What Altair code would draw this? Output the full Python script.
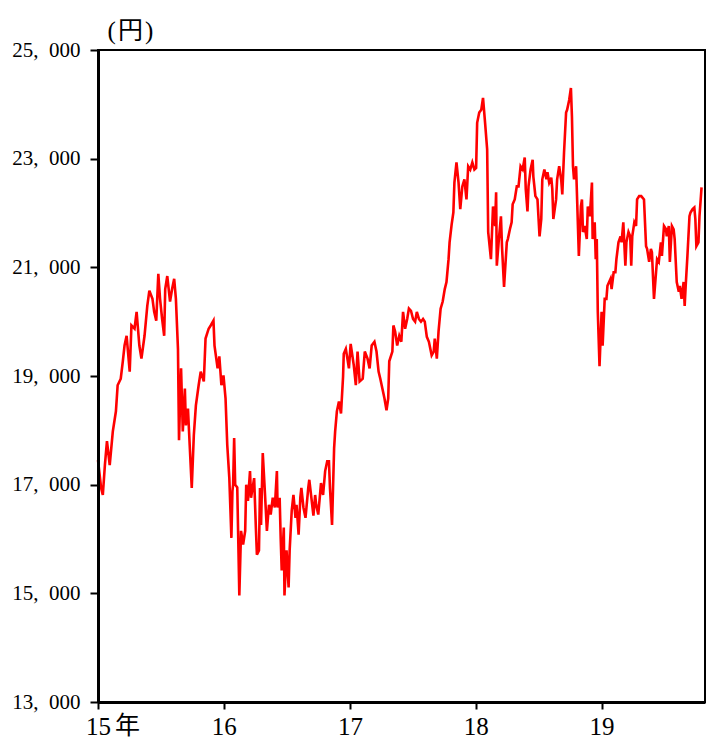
import altair as alt
import pandas as pd

# (days since 2015-01-01, Nikkei 225 close in yen)
pts_2015 = [(0,17450),(9,16940),(14,16810),(20,17360),(26,17800),(34,17360),(43,17980),(52,18350),(57,18830),(66,18950),(72,19270),(77,19560),(83,19740),(92,19080),(97,19930),(106,19870),(112,20180),(120,19560),(126,19320),(135,19740),(143,20290),(149,20570),(158,20420),(163,20180),(169,20020),(175,20880),(180,20420),(186,20050),(192,19740),(195,20600),(201,20840),(209,20370),(215,20600),(221,20790),(226,20420),(232,19500),(235,17820),(241,19140),(246,17980),(252,18770),(255,18090),(261,18400),(266,17730),(272,16940),(278,17910),(284,18460),(292,18830),(298,19080),(307,18900),(312,19690),(321,19870),(327,19930),(335,20020),(338,19560),(347,19140),(352,19360),(358,18830),(364,19010)]
pts_2016 = [(370,18590),(375,17730),(381,17120),(387,16020),(390,16880),(392,17000),(395,17860),(398,17000),(404,16950),(410,14960),(415,16150),(421,15900),(427,16150),(430,17000),(435,16700),(441,17250),(444,16760),(453,17120),(458,16210),(461,15710),(467,15790),(470,16940),(473,16260),(478,17580),(484,16880),(490,16150),(496,16630),(501,16450),(507,16760),(513,16580),(519,17250),(521,16580),(527,16760),(530,16020),(533,15420),(539,16210),(541,14960),(547,15790),(553,15110),(556,15790),(562,16520),(567,16810),(573,16390),(576,16630),(582,16080),(587,16760),(590,16940),(596,16580),(602,16390),(610,16940),(613,17090),(619,16760),(625,16430),(630,16810),(633,16630),(639,16450),(645,16880),(647,17030),(653,16810),(659,17250),(665,17430),(670,17430),(673,16940),(679,16260),(685,17670),(688,17980),(693,18350),(699,18530),(705,18310),(711,18990),(713,19410),(719,19500),(728,19140)]
pts_2017 = [(733,19590),(742,19200),(748,18830),(753,19450),(759,18900),(768,18950),(774,19450),(782,19320),(788,19140),(794,19560),(802,19630),(808,19450),(814,19080),(819,18950),(825,18770),(831,18590),(837,18370),(842,18590),(845,19270),(854,19450),(857,19930),(862,19820),(868,19560),(874,19740),(880,19630),(885,20180),(891,19870),(897,20050),(902,20240),(908,20200),(914,20050),(920,20000),(925,20180),(931,20050),(937,20000),(943,20050),(948,20000),(954,19720),(960,19630),(968,19380),(974,19450),(977,19690),(983,19320),(988,19820),(994,20240),(1000,20370),(1006,20600),(1011,20730),(1017,21150),(1020,21460),(1026,21790),(1031,22010),(1034,22560),(1040,22930),(1046,22560),(1051,22070),(1057,22490),(1063,22620),(1069,22250),(1074,22860),(1080,22800),(1086,22930),(1092,22800)]
pts_2018 = [(1097,22830),(1100,23660),(1106,23850),(1112,23900),(1117,24120),(1123,23660),(1129,23170),(1132,21650),(1140,21150),(1146,22120),(1152,21760),(1155,22380),(1157,21030),(1163,21520),(1169,21940),(1172,21390),(1178,20640),(1186,21460),(1189,21520),(1195,21700),(1200,21830),(1203,22160),(1209,22250),(1215,22490),(1220,22490),(1226,22860),(1232,22800),(1238,23020),(1241,22440),(1246,22030),(1249,22490),(1255,22800),(1261,22980),(1263,22670),(1269,22310),(1275,22250),(1281,21570),(1286,21890),(1289,22620),(1295,22800),(1301,22620),(1304,22750),(1309,22560),(1315,22650),(1318,22440),(1321,21890),(1329,22250),(1332,22620),(1338,22860),(1344,22600),(1347,22340),(1352,23110),(1358,23850),(1361,23900),(1367,24080),(1372,24300),(1375,23770),(1378,22860),(1381,22620),(1387,22860),(1390,22250),(1395,21210),(1401,22120),(1404,22250),(1407,21650),(1412,21760),(1418,21520),(1421,22120),(1427,21940),(1433,22560),(1435,21520),(1441,21830),(1444,21150),(1447,21520),(1450,20180),(1455,19180)]
pts_2019 = [(1461,20180),(1464,19560),(1470,20420),(1475,20420),(1478,20660),(1487,20790),(1490,20600),(1496,20910),(1501,20910),(1504,21150),(1510,21460),(1516,21570),(1519,21460),(1524,21830),(1530,21030),(1533,21460),(1539,21650),(1544,21570),(1547,21030),(1550,21570),(1556,21830),(1561,21760),(1564,22250),(1570,22310),(1576,22310),(1584,22250),(1590,21390),(1593,21340),(1599,21100),(1604,21340),(1607,21280),(1613,20420),(1619,20910),(1622,21150),(1627,21100),(1633,21460),(1636,21210),(1642,21760),(1648,21700),(1650,21570),(1656,21760),(1659,21100),(1665,21760),(1670,21700),(1673,21520),(1679,20730),(1685,20550),(1688,20660),(1693,20420),(1699,20730),(1702,20290),(1705,20660),(1710,21210),(1716,21940),(1719,22010),(1725,22070),(1730,22100),(1733,21890),(1736,21390),(1742,21460),(1745,21940),(1751,22470)]

x_ticks = [0, 365, 731, 1096, 1461]          # Jan 1 of 2015..2019
y_ticks = [13000, 15000, 17000, 19000, 21000, 23000, 25000]
x_domain = [0, 1761]
y_domain = [13000, 25000]
unit_label = "(\u200a円\u200a)"
year_suffix = "年"

rows = pts_2015 + pts_2016 + pts_2017 + pts_2018 + pts_2019
df = pd.DataFrame(rows, columns=["day", "price"])
suffix_df = pd.DataFrame({"day": [x_ticks[0]], "price": [y_domain[0]], "t": [year_suffix]})

FONT = "Liberation Serif, Noto Sans CJK JP"

x_enc = alt.X(
    "day:Q",
    scale=alt.Scale(domain=x_domain, nice=False, zero=False),
    axis=alt.Axis(
        values=x_ticks, labelExpr="round(15 + datum.value / 365.25)", title=None,
        grid=False, ticks=True, tickSize=7, tickWidth=2, tickColor="black",
        domainColor="black", domainWidth=3, labelFont=FONT, labelFontSize=25,
        labelColor="black", labelPadding=5, labelFlush=False, labelOverlap=False,
        labelBaseline="top", zindex=1,
    ),
)
y_enc = alt.Y(
    "price:Q",
    scale=alt.Scale(domain=y_domain, nice=False, zero=False),
    axis=alt.Axis(
        values=y_ticks, labelExpr="replace(format(datum.value, ','), ',', ',\u2002')",
        title=unit_label, titleAngle=0, titleAlign="left", titleBaseline="alphabetic",
        titleX=9, titleY=-12, titleFont=FONT, titleFontSize=25, titleFontWeight="normal",
        titleColor="black", grid=False, tickSize=8, tickWidth=2, tickColor="black",
        domainColor="black", domainWidth=3, labelFont=FONT, labelFontSize=21,
        labelColor="black", labelPadding=10, labelFlush=False, labelOverlap=False,
        labelBaseline="middle", zindex=1,
    ),
)

line = alt.Chart(df).mark_line(color="#ff0000", strokeWidth=2.6).encode(x=x_enc, y=y_enc)
suffix = alt.Chart(suffix_df).mark_text(
    align="left", baseline="top", dx=17, dy=12, font=FONT, fontSize=25, color="black"
).encode(x=x_enc, y=y_enc, text="t:N")

chart = alt.layer(line, suffix).properties(
    width=607, height=652,
    autosize=alt.AutoSizeParams(type="none"),
    padding={"left": 90, "top": 42, "right": 1, "bottom": 36},
).configure_view(stroke="black", strokeWidth=2)

chart.save("out.html", embed_options={"renderer": "svg", "actions": False})
